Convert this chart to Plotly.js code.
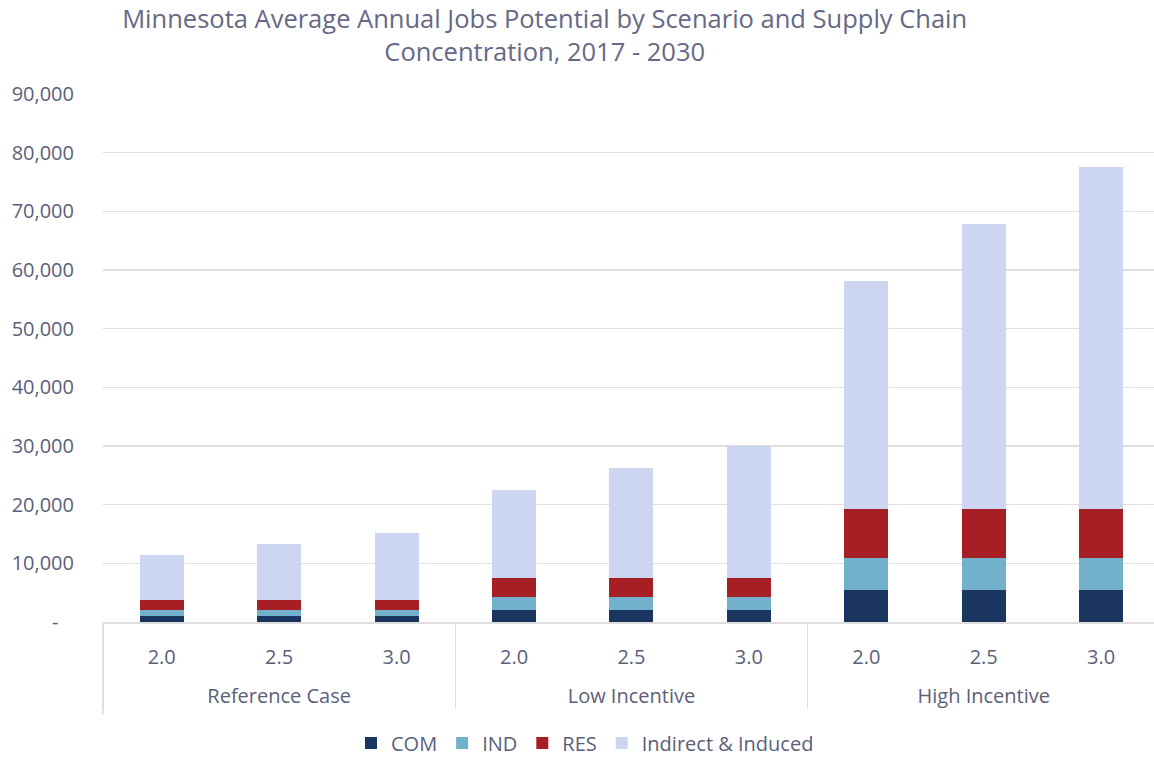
<!DOCTYPE html>
<html>
<head>
<meta charset="utf-8">
<script src="https://cdn.plot.ly/plotly-3.0.1.min.js"></script>
<style>html,body{margin:0;padding:0;background:#fff;}#chart{width:1154px;height:759px;}</style>
</head>
<body>
<div id="chart"></div>
<script>
const groups = ["Reference Case","Reference Case","Reference Case","Low Incentive","Low Incentive","Low Incentive","High Incentive","High Incentive","High Incentive"];
const chainLabels = ["2.0","2.5","3.0","2.0","2.5","3.0","2.0","2.5","3.0"];
const comJobs = [1000, 1000, 1000, 2080, 2080, 2080, 5400, 5400, 5400];
const indJobs = [1020, 1020, 1020, 2220, 2220, 2220, 5560, 5560, 5560];
const resJobs = [1650, 1650, 1650, 3120, 3120, 3120, 8250, 8250, 8250];
const indirectJobs = [7670, 9550, 11440, 15000, 18800, 22550, 39000, 48710, 58430];
const yTickVals = [0,10000,20000,30000,40000,50000,60000,70000,80000,90000];
const yTickText = ["-\u00a0\u00a0\u00a0","10,000","20,000","30,000","40,000","50,000","60,000","70,000","80,000","90,000"];

const FONT = "'Open Sans', 'Noto Sans', sans-serif";
const TXT = "#5b5f7a";
const GRID = '#dedede';
// a leading line break pushes the group labels down like the reference
const x = [groups.map(g => '<br>' + g), chainLabels];
function tr(name, y, color){
  return {type:'bar', name:name, x:x, y:y, marker:{color:color, line:{width:0}}, hoverinfo:'y+name'};
}
const data = [
  tr('COM', comJobs, '#1a3560'),
  tr('IND', indJobs, '#72b1cb'),
  tr('RES', resJobs, '#a51f25'),
  tr('Indirect & Induced', indirectJobs, '#cdd6f1')
];
const layout = {
  width:1154, height:759,
  margin:{l:103, r:0, t:94, b:137, autoexpand:false},
  barmode:'stack', bargap:0.625,
  paper_bgcolor:'#fff', plot_bgcolor:'#fff',
  font:{family:FONT, color:TXT, size:20},
  title:{text:'Minnesota Average Annual Jobs Potential by Scenario and Supply Chain<br>Concentration, 2017 - 2030',
         x:0.472, xref:'container', xanchor:'center', y:0.963, yref:'container', yanchor:'middle',
         font:{family:FONT, size:25.5, color:'#656985'}},
  xaxis:{type:'multicategory', range:[-0.5, 8.45], showline:true, linecolor:GRID, linewidth:1.5,
         showdividers:true, dividercolor:GRID, dividerwidth:1.5, ticks:'', showgrid:false,
         ticklabelstandoff:16, automargin:false, tickfont:{size:20, color:TXT, family:FONT}},
  yaxis:{range:[0,90000], tickvals:yTickVals, ticktext:yTickText, showgrid:true, gridcolor:GRID, gridwidth:1.5,
         zeroline:false, showline:false, ticks:'', ticklabelstandoff:28, automargin:false,
         tickfont:{size:20, color:TXT, family:FONT}},
  legend:{orientation:'h', x:0.4586, xref:'paper', xanchor:'center', y:-0.229, yanchor:'middle',
          traceorder:'normal', font:{size:20, color:TXT, family:FONT}},
  shapes:[{type:'line', xref:'paper', yref:'paper', x0:0, x1:0, y0:0, y1:-0.176,
           line:{color:GRID, width:1.5}}],
  showlegend:true
};
Plotly.newPlot('chart', data, layout, {displayModeBar:false, staticPlot:true});
</script>
</body>
</html>
